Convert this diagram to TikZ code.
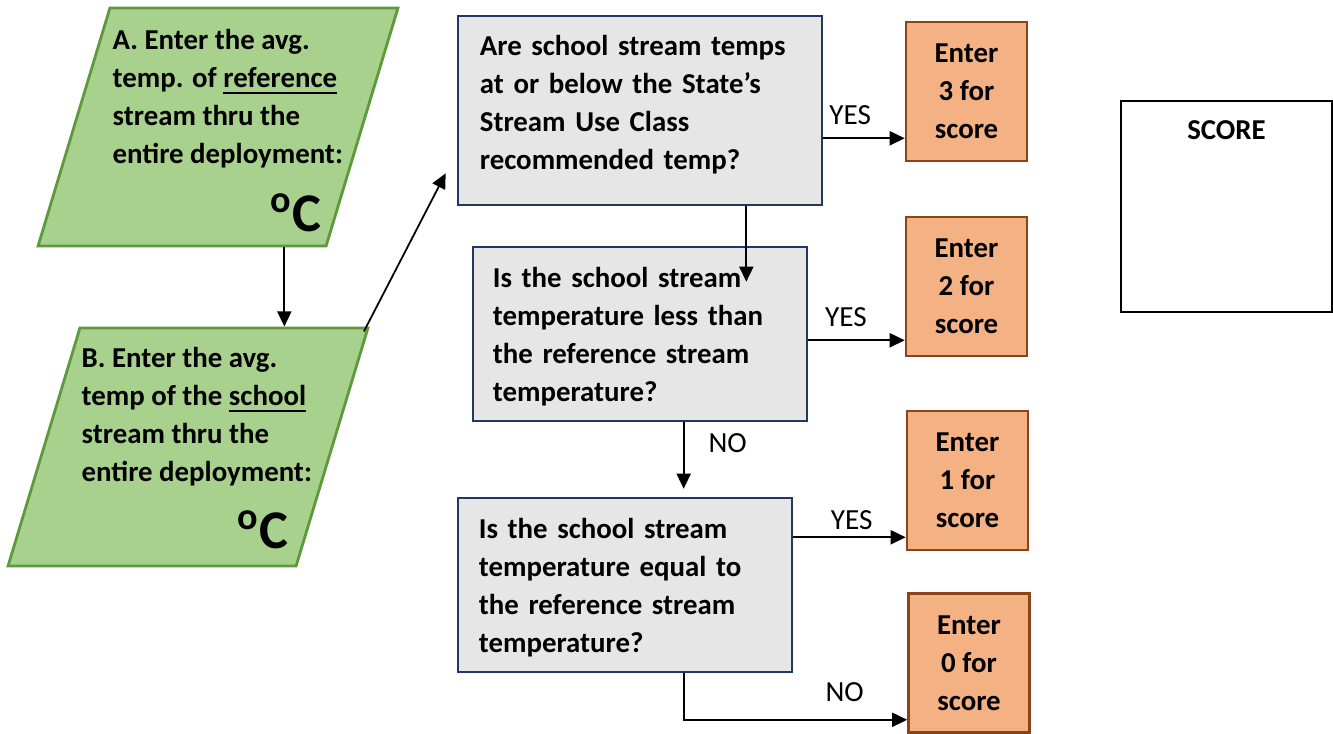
\documentclass[tikz,border=0pt]{standalone}
\usepackage{fontspec}
\setmainfont{Carlito}
\usepackage{tikz}
\usetikzlibrary{shapes.geometric, arrows.meta, positioning, calc}
\definecolor{leafgreen}{HTML}{A9D18E}
\definecolor{leafedge}{HTML}{5E9A3C}
\definecolor{panelgray}{HTML}{E7E6E6}
\definecolor{navyedge}{HTML}{203864}
\definecolor{peach}{HTML}{F4B183}
\definecolor{rustedge}{HTML}{8C4318}

\begin{document}
\begin{tikzpicture}[x=0.01cm, y=-0.01cm, font=\fontsize{8.2}{10.8}\selectfont\bfseries,
    inputbox/.style={trapezium, trapezium left angle=73.2, trapezium right angle=106.8,
      text width=2.16cm, text height=2.38cm, text depth=0pt, inner sep=0pt,
      draw=leafedge, fill=leafgreen, line width=0.8pt},
    intext/.style={anchor=west, align=left, inner sep=0pt},
    degsign/.style={anchor=base, inner sep=0pt, font=\fontsize{15.5}{16}\selectfont\bfseries},
    qbox/.style={rectangle, draw=navyedge, fill=panelgray, line width=0.7pt, align=left,
      minimum width=3.34cm, minimum height=1.74cm, inner ysep=0pt, text depth=32.4pt},
    enterbox/.style={rectangle, draw=rustedge, fill=peach, line width=0.7pt, align=center,
      minimum width=1.21cm, minimum height=1.39cm, inner sep=0pt},
    totalbox/.style={rectangle, draw=black, line width=0.8pt, minimum size=2.11cm},
    edgelbl/.style={font=\normalfont\fontsize{8.3}{9}\selectfont, inner sep=0pt},
    flow/.style={-{Triangle[length=0.15cm, width=0.14cm]}, line width=0.5pt, black}]

    \useasboundingbox (0,0) rectangle (1333,733);

    % input parallelograms
    \node (pa) [inputbox] at (218,127) {};
    \node (pb) [inputbox] at (188,447) {};
    \node (atxt) [intext] at (112,99) {A. Enter the avg.\\temp. of \underline{reference}\\stream thru the\\entire deployment:};
    \node (btxt) [intext] at (81,417) {B. Enter the avg.\\temp of the \underline{school}\\stream thru the\\entire deployment:};
    \node (adeg) [degsign] at (296,231) {\textsuperscript{o}C};
    \node (bdeg) [degsign] at (263,548) {\textsuperscript{o}C};

    % questions
    \node (q1) [qbox, minimum width=3.64cm, minimum height=1.89cm, text width=3.2cm, inner xsep=0.22cm, text depth=37.2pt] at (640,110.5)
      {Are school stream temps\\at or below the State’s\\Stream Use Class\\recommended temp?};
    \node (q2) [qbox, text width=2.94cm, inner xsep=0.2cm] at (640,334)
      {Is the school stream\\temperature less than\\the reference stream\\temperature?};
    \node (q3) [qbox, text width=2.92cm, inner xsep=0.21cm] at (625,585)
      {Is the school stream\\temperature equal to\\the reference stream\\temperature?};

    % scores
    \node (e3) [enterbox] at (966.5,91.5) {Enter\\3 for\\score};
    \node (e2) [enterbox] at (966.5,286.5) {Enter\\2 for\\score};
    \node (e1) [enterbox] at (967.5,480.5) {Enter\\1 for\\score};
    \node (e0) [enterbox] at (969,663) {Enter\\0 for\\score};

    \node (total) [totalbox] at (1226.5,206.5) {};
    \node (totallbl) [below=0.2cm of total.north, inner sep=0pt] {SCORE};

    % connectors
    \coordinate (adown) at ($(pa.bottom left corner)!0.853!(pa.bottom right corner)$);
    \coordinate (bup) at ($(pb.top right corner)+(-6,5)$);
    \coordinate (q1in) at ($(q1.south west)+(-11,-33)$);
    \coordinate (q1out) at ($(q1.south east)+(-77,0)$);
    \coordinate (q2mark) at ($(q2.north east)+(-62,36)$);
    \coordinate (q2out) at ($(q2.south west)+(212,0)$);
    \coordinate (q3mark) at ($(q3.north -| q2out)+(0,-8)$);
    \coordinate (q3out) at ($(q3.south west)+(227,0)$);
    \coordinate (e3in) at ($(e3.south west)+(0,-24)$);
    \coordinate (e2in) at ($(e2.south west)+(0,-17)$);
    \coordinate (e1in) at ($(e1.south west)+(0,-14)$);
    \coordinate (e0in) at ($(e0.south west)+(0,-14)$);

    \draw [flow] (adown) -- (adown |- pb.north);
    \draw [flow] (bup) -- (q1in);
    \draw [flow] (q1out) -- (q1out |- q2mark);
    \draw [flow] (q2out) -- (q3mark) node [edgelbl, pos=0.32, right=0.24cm] {NO};
    \draw [flow] (q1.east |- e3in) -- (e3in) node [edgelbl, pos=0.33, above=0.125cm] {YES};
    \draw [flow] (q2.east |- e2in) -- (e2in) node [edgelbl, pos=0.39, above=0.13cm] {YES};
    \draw [flow] (q3.east |- e1in) -- (e1in) node [edgelbl, pos=0.52, above=0.065cm] {YES};
    \draw [flow] (q3out) |- (e0in) node [edgelbl, pos=0.86, above=0.175cm] {NO};
\end{tikzpicture}
\end{document}
